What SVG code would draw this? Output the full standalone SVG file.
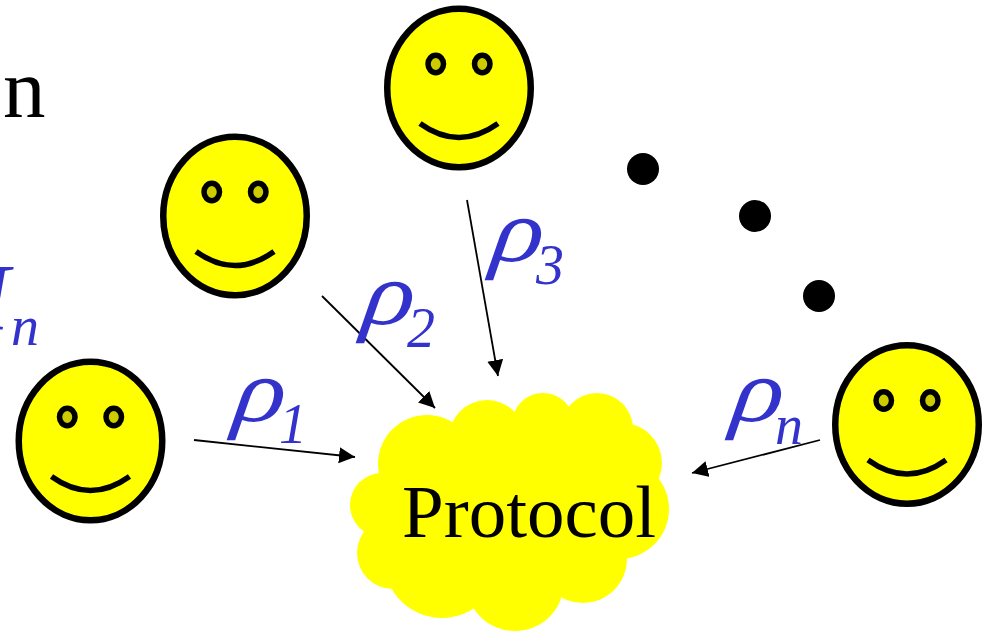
<svg xmlns="http://www.w3.org/2000/svg" width="992" height="631" viewBox="0 0 992 631">
<style>
.face{fill:#ffff00;stroke:#000;stroke-width:6.500}
.eye{fill:#cccc00;stroke:#000;stroke-width:5.500}
.smile{fill:none;stroke:#000;stroke-width:5.500}
.lobe{fill:#ffff00}
.dot{fill:#000}
.conn{stroke:#000;stroke-width:1.8;fill:none;marker-end:url(#arrow)}
.t{font-family:"Liberation Serif","Times New Roman",serif;fill:#000}
.b{font-family:"Liberation Serif","Times New Roman",serif;font-style:italic;fill:#3333cc}
.rho{font-size:96px}
.sub{font-size:56px}
</style>
<defs>
<marker id="arrow" markerUnits="userSpaceOnUse" markerWidth="18" markerHeight="18" refX="16" refY="8" orient="auto">
<path d="M0 0L16 8L0 16Z" fill="#000"/>
</marker>
<g id="smiley">
<ellipse class="face" cx="0" cy="0" rx="71.750" ry="79.250"/>
<ellipse class="eye" cx="-23.250" cy="-24" rx="7.750" ry="8.750"/>
<ellipse class="eye" cx="23.250" cy="-24" rx="7.750" ry="8.750"/>
<path class="smile" d="M-39 35.500Q0 63.500 39 35.500"/>
</g>
</defs>
<text class="t" x="3" y="117" font-size="85">n</text>
<text class="b" x="-60" y="330" font-size="96">H</text>
<text class="b sub" x="11" y="345">n</text>
<g id="cloud">
<circle class="lobe" cx="427" cy="464" r="49"/>
<circle class="lobe" cx="487" cy="438" r="38"/>
<circle class="lobe" cx="543" cy="424" r="31"/>
<circle class="lobe" cx="597" cy="429" r="36"/>
<circle class="lobe" cx="622" cy="463" r="40"/>
<circle class="lobe" cx="619" cy="509" r="50"/>
<circle class="lobe" cx="583" cy="559" r="44"/>
<circle class="lobe" cx="515" cy="582" r="49"/>
<circle class="lobe" cx="442" cy="560" r="58"/>
<circle class="lobe" cx="393" cy="553" r="36"/>
<circle class="lobe" cx="382" cy="505" r="32"/>
<ellipse class="lobe" cx="510" cy="505" rx="130" ry="80"/>
<text class="t" x="402" y="537" font-size="75">Protocol</text>
</g>
<g id="face1"><use href="#smiley" x="90.500" y="441"/></g>
<g id="face2"><use href="#smiley" x="235" y="216"/></g>
<g id="face3"><use href="#smiley" x="459" y="88"/></g>
<g id="faceN"><use href="#smiley" x="907" y="424.500"/></g>
<g id="dots">
<circle class="dot" cx="643" cy="169" r="16"/>
<circle class="dot" cx="755" cy="216" r="16"/>
<circle class="dot" cx="819" cy="296" r="16"/>
</g>
<g id="connectors">
<line class="conn" x1="194" y1="440" x2="355" y2="457"/>
<line class="conn" x1="322" y1="296" x2="435" y2="408"/>
<line class="conn" x1="467" y1="200" x2="498" y2="376"/>
<line class="conn" x1="820" y1="440" x2="692" y2="473"/>
</g>
<g id="labels">
<text class="b rho" transform="translate(232 421) skewX(-8) scale(1.1 .94)">ρ</text><text class="b sub" x="279" y="443">1</text>
<text class="b rho" transform="translate(361 324) skewX(-8) scale(1.1 .94)">ρ</text><text class="b sub" x="407" y="347">2</text>
<text class="b rho" transform="translate(490 261) skewX(-8) scale(1.1 .94)">ρ</text><text class="b sub" x="536" y="284">3</text>
<text class="b rho" transform="translate(730 421) skewX(-8) scale(1.1 .94)">ρ</text><text class="b sub" x="775" y="444">n</text>
</g>
</svg>
